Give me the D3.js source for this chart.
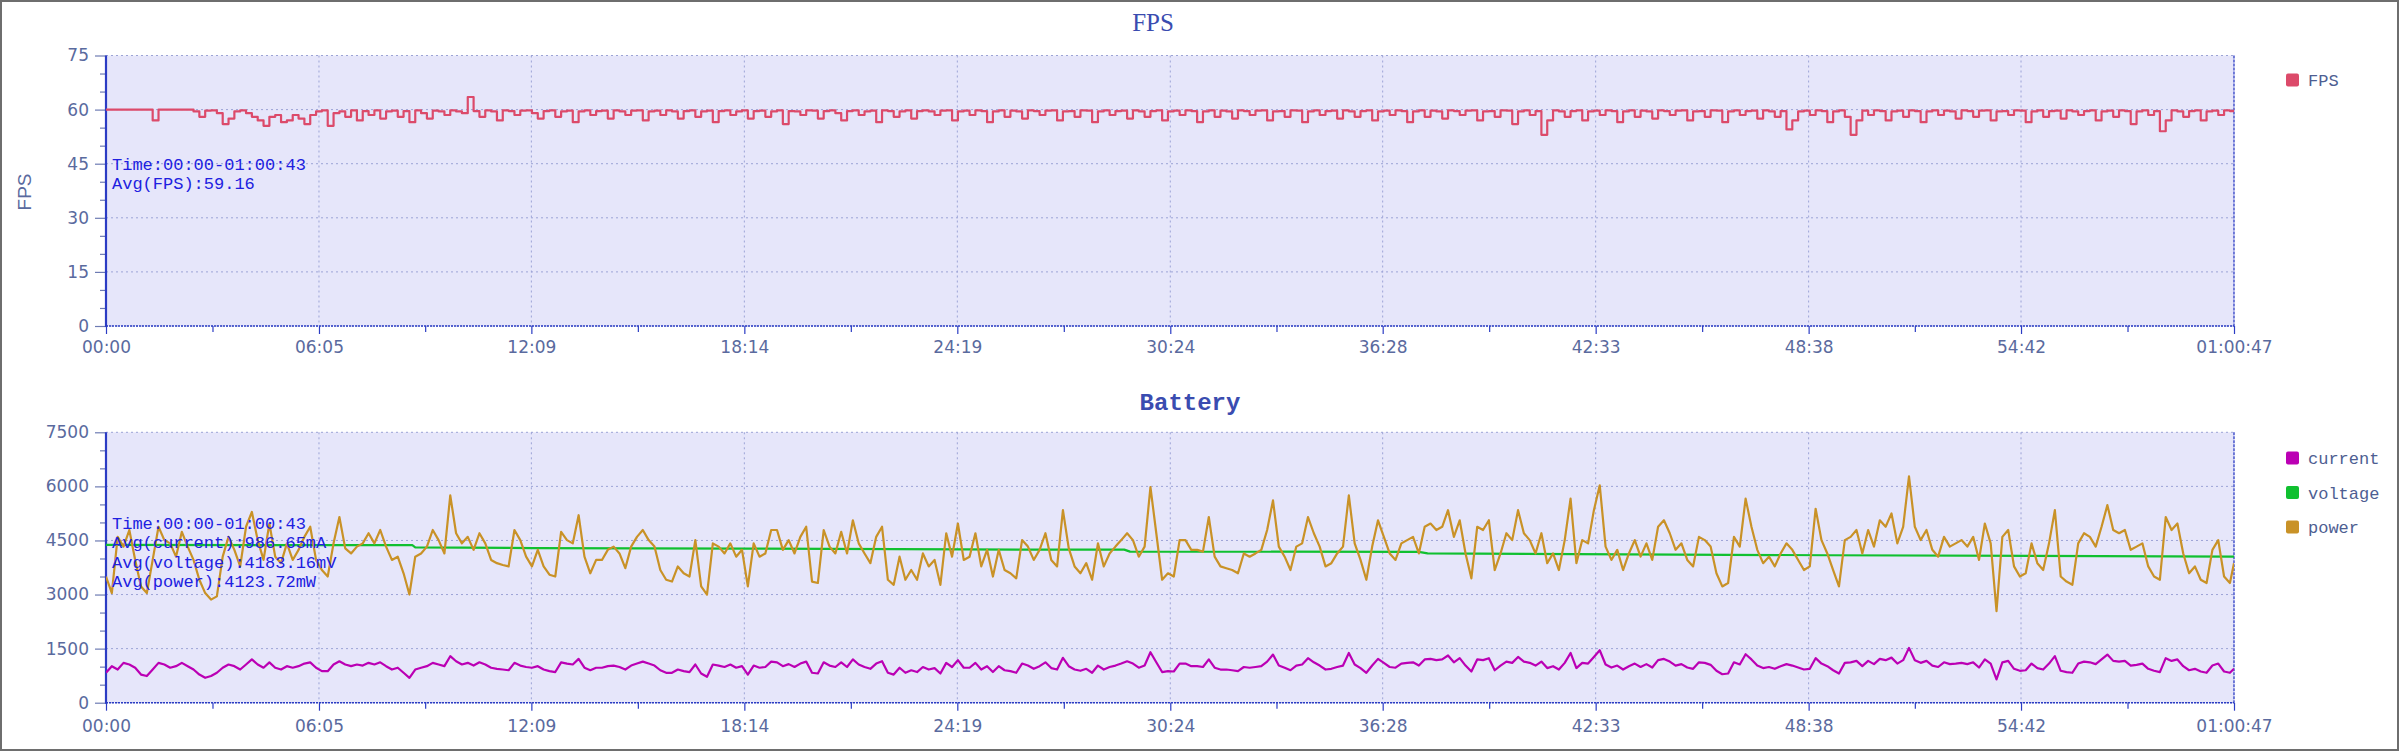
<!DOCTYPE html>
<html><head><meta charset="utf-8">
<script src="https://cdn.jsdelivr.net/npm/d3@7"></script>
<style>body{margin:0;background:#fff}svg{display:block}</style>
</head><body>
<svg id="chart" width="2400" height="753"></svg>
<script>
// ---------------- DATA ----------------
const sampleTimes = d3.range(0, 3641, 10).concat([3647]); // seconds
const xTickValues = [0, 365, 729, 1094, 1459, 1824, 2188, 2553, 2918, 3282, 3647];
const xTickLabels = ["00:00","06:05","12:09","18:14","24:19","30:24","36:28","42:33","48:38","54:42","01:00:47"];
const fpsTicks = [0, 15, 30, 45, 60, 75];
const batteryTicks = [0, 1500, 3000, 4500, 6000, 7500];

const fps = [
60,60,60,60,60,60,60,60,57,60,60,60,60,60,60,59.5,58,59.7,59.8,59,
56,57.5,59.5,59.8,59,58,57,55.5,58,58.5,56.5,57,58.5,57.5,56,58.5,59.5,59.8,55.5,59,
59.5,58,59.8,57,59.6,58.5,59.8,57.5,59.5,59.7,58,59.6,56.5,59.8,59,57.5,59.7,59.5,58.5,59.8,
59.5,59,63.5,59.6,58,59.8,59.5,57,59.8,59.6,58.5,59.7,59.8,59,57.5,59.6,59.8,58,59.5,59.7,
56.5,59.5,59.8,58.5,59.6,59.7,57.5,59.8,59.5,58.5,59.7,59.8,57,59.5,59.7,58.5,59.8,59.5,57.5,59.6,
59.8,58,59.5,59.7,56.5,59.6,59.8,58.5,59.5,59.8,57.5,59.6,59.7,58,59.5,59.8,56,59.6,59.5,58.5,
59.8,59.7,57.5,59.6,59.8,59,57,59.6,59.8,58.5,59.5,59.7,56.5,59.8,59.6,58,59.5,59.8,57.5,59.6,
59.8,59.5,58.5,59.7,59.8,57,59.5,59.7,58.5,59.8,59.6,56.5,59.5,59.8,58,59.7,59.5,57.5,59.8,59.6,
58.5,59.7,59.8,57,59.5,59.6,58,59.8,59.7,56.5,59.5,59.8,58.5,59.6,59.7,57.5,59.8,59.5,58,59.6,
59.8,57,59.5,59.7,58.5,59.8,59.6,56.5,59.5,59.8,58,59.7,59.5,57.5,59.8,59.6,58.5,59.7,59.8,57,
59.5,59.6,58,59.8,59.7,56.5,59.5,59.8,58.5,59.6,59.7,57.5,59.8,59.5,58,59.6,59.8,57,59.5,59.7,
58.5,59.8,59.6,56.5,59.5,59.8,58,59.7,59.5,57.5,59.8,59.6,58.5,59.7,59.8,57,59.5,59.6,58,59.8,
59.7,56,59.5,59.8,58.5,59.6,53,57,59.8,59.5,58,59.6,59.8,57,59.5,59.7,58.5,59.8,59.6,56.5,
59.5,59.8,58,59.7,59.5,57.5,59.8,59.6,58.5,59.7,59.8,57,59.5,59.6,58,59.8,59.7,56.5,59.5,59.8,
58.5,59.6,59.7,57.5,59.8,59.5,58,59.6,54.5,57,59.5,59.7,58.5,59.8,59.6,56.5,59.5,59.8,58,53,
57,59.7,58.5,59.8,59.6,57,59.5,59.7,58,59.8,59.6,56.5,59.5,59.8,58.5,59.7,59.5,57.5,59.8,59.6,
58,59.7,59.8,57,59.5,59.6,58.5,59.8,59.7,56.5,59.5,59.8,58,59.6,59.7,57.5,59.8,59.5,58.5,59.6,
59.8,57,59.5,59.7,58,59.8,59.6,56,59.5,59.8,58.5,59.6,54,57,59.8,59.5,58,59.6,59.8,57,
59.5,59.7,58.5,59.8,59.6,60
];

const power = [
3500,3040,4600,4330,4790,3960,3225,3040,3960,4880,4510,4420,4050,4740,4330,3960,3410,3040,2860,2950,
4050,4600,4240,3780,4880,5290,4510,3960,4970,4050,3870,4420,3960,4240,4600,4880,3960,3680,3500,4420,
5150,4280,4140,4330,4420,4700,4420,4790,4330,3960,4050,3590,3000,4050,4140,4330,4790,4510,4140,5750,
4700,4420,4600,4240,4700,4420,3960,3870,3820,3780,4790,4510,4050,3780,
4240,3780,3550,3500,4740,4510,4420,5200,4050,3590,3960,3960,4240,4330,4140,3730,4330,4600,4790,4510,
4330,3680,3410,3360,3780,3590,3500,4510,3225,3000,4420,4330,4140,4420,4050,4240,3225,4420,4050,4140,
4790,4790,4240,4510,4140,4600,4880,3360,3320,4790,4330,4140,4740,4140,5060,4420,4140,3870,4600,4880,
3410,3270,4050,3410,3680,3410,4140,3780,3960,3270,4700,4050,4970,3960,
4050,4700,3780,4240,3500,4240,3680,3590,3450,4510,4330,3960,4240,4700,3960,3780,5340,4280,3780,3590,
3870,3410,4420,3780,4140,4330,4510,4700,4510,4050,4330,5980,4700,3410,3590,3500,4510,4510,4240,4240,
4190,5150,4050,3780,3730,3680,3590,4140,4050,4140,4240,4790,5610,4330,4050,3680,4330,4420,5150,4700,
4330,3780,3870,4140,4330,5750,4420,3960,3410,4330,5060,4600,4140,
3960,4420,4510,4600,4140,4880,4970,4790,4880,5340,4600,5060,4140,3450,4880,4790,5060,3680,4140,4700,
4510,5340,4700,4510,4140,4700,3870,4140,3680,4510,5660,3870,4510,4420,5340,6030,4330,3960,4240,3680,
4140,4510,4050,4420,3960,4880,5060,4700,4240,4420,3960,3780,4600,4510,4330,3590,3225,3320,4600,4330,
5660,4880,4240,3870,4050,3780,4140,4420,4240,3960,3680,3780,
5380,4510,4140,3680,3225,4510,4600,4790,4140,4790,4330,5060,4880,5250,4420,4880,6280,4880,4510,4790,
4240,4050,4600,4330,4420,4510,4330,4600,3960,4970,4420,2540,4600,4790,3780,3500,3590,4420,3870,3680,
4420,5340,3500,3360,3270,4420,4700,4600,4330,4880,5480,4790,4700,4790,4240,4330,4420,3780,3500,3410,
5150,4790,4970,4140,3590,3780,3410,3320,4240,4510,3500,3320,3870
];

const current = [
830,1013,920,1105,1060,970,780,740,920,1105,1060,970,1013,1105,1013,920,780,690,740,830,
970,1060,1013,920,1060,1200,1060,970,1120,970,920,1013,970,1013,1085,1120,970,875,875,1060,
1150,1060,1013,1060,1030,1105,1060,1120,1013,920,970,830,690,920,970,1013,1105,1060,1013,1290,
1150,1060,1105,1030,1120,1060,970,940,920,900,1105,1030,990,970,
1013,920,875,850,1120,1085,1060,1215,970,900,970,970,1013,1030,990,920,1030,1085,1140,1085,
1030,900,830,830,920,875,850,1060,810,720,1060,1030,990,1060,970,1013,780,1030,970,990,
1140,1120,1013,1070,990,1085,1140,830,810,1120,1030,990,1120,990,1200,1060,990,940,1085,1150,
830,780,970,830,900,850,990,920,960,810,1105,990,1180,970,
970,1105,920,1013,850,1013,900,875,830,1085,1030,940,1013,1120,960,920,1245,1013,920,885,
940,830,1030,920,990,1030,1085,1150,1085,970,1030,1400,1120,850,875,865,1085,1085,1013,1013,
990,1200,970,920,920,900,875,990,970,990,1013,1140,1335,1030,970,900,1030,1060,1235,1120,
1030,920,940,990,1030,1380,1060,960,830,1030,1215,1105,990,
970,1085,1105,1120,1030,1200,1215,1180,1200,1310,1120,1235,1030,865,1200,1180,1235,900,1030,1140,
1105,1270,1140,1105,1030,1140,960,1013,920,1105,1380,960,1105,1085,1270,1455,1060,975,1030,920,
1013,1085,990,1070,975,1180,1215,1140,1030,1070,975,940,1120,1105,1050,885,790,810,1120,1060,
1345,1200,1030,960,990,940,1013,1070,1030,975,920,940,
1235,1085,1013,900,810,1105,1120,1160,1013,1160,1070,1215,1180,1250,1085,1180,1520,1180,1105,1160,
1030,990,1120,1070,1085,1105,1070,1120,975,1200,1085,645,1120,1160,940,885,900,1085,960,920,
1085,1290,885,850,830,1085,1140,1120,1070,1200,1335,1160,1140,1160,1030,1050,1085,940,885,850,
1235,1160,1200,1013,900,940,865,830,1030,1085,865,830,940
];

const voltageTimes = [0, 525, 530, 733, 1100, 1470, 1745, 1755, 2250, 2265, 2950, 3647];
const voltage = [4375, 4370, 4310, 4290, 4275, 4250, 4245, 4190, 4185, 4140, 4090, 4050];

const fpsNotes = ["Time:00:00-01:00:43", "Avg(FPS):59.16"];
const batteryNotes = ["Time:00:00-01:00:43", "Avg(current):986.65mA", "Avg(voltage):4183.16mV", "Avg(power):4123.72mW"];

// ---------------- STYLE ----------------
const C = {
  plotBg: "#e6e6fa", grid: "#9ca3d6", axis: "#2b3cc4", tick: "#6d7bb3",
  label: "#5a6a9e", title: "#3a4cb0", note: "#2020e0",
  fps: "#dc4a6a", current: "#bb00b4", voltage: "#10c030", power: "#c99227"
};
const sansFont = "'DejaVu Sans', sans-serif";
const monoFont = "'Liberation Mono', monospace";

const svg = d3.select("#chart");
svg.append("rect").attr("x", 1).attr("y", 1).attr("width", 2397).attr("height", 749)
  .attr("fill", "#fff").attr("stroke", "#6e6e6e").attr("stroke-width", 2);

const plotL = 106, plotR = 2234;
const x = d3.scaleLinear().domain([0, 3647]).range([plotL, plotR]);

function panel(cfg) {
  const y = d3.scaleLinear().domain([0, cfg.max]).range([cfg.bottom, cfg.top]);
  const g = svg.append("g");
  const clipId = "clip" + cfg.id;
  svg.append("clipPath").attr("id", clipId).append("rect")
    .attr("x", plotL).attr("y", cfg.top - 2).attr("width", plotR - plotL).attr("height", cfg.bottom - cfg.top + 3);

  g.append("rect").attr("x", plotL).attr("y", cfg.top).attr("width", plotR - plotL)
    .attr("height", cfg.bottom - cfg.top).attr("fill", C.plotBg);

  // grid
  g.append("g").selectAll("line").data(cfg.ticks).join("line")
    .attr("x1", plotL).attr("x2", plotR).attr("y1", d => y(d)).attr("y2", d => y(d))
    .attr("stroke", C.grid).attr("stroke-width", 1).attr("stroke-dasharray", "2,3");
  g.append("g").selectAll("line").data(xTickValues.slice(1, -1)).join("line")
    .attr("x1", d => x(d)).attr("x2", d => x(d)).attr("y1", cfg.top).attr("y2", cfg.bottom)
    .attr("stroke", C.grid).attr("stroke-width", 1).attr("stroke-dasharray", "2,3");

  // minor y ticks
  const step = cfg.ticks[1] - cfg.ticks[0];
  const minorY = d3.range(0, cfg.max + 0.001, step / 3).filter(v => !cfg.ticks.some(t => Math.abs(t - v) < 1e-6));
  const yMinor = g.append("g").attr("transform", `translate(${plotL},0)`)
    .call(d3.axisLeft(y).tickValues(minorY).tickSize(6).tickFormat(""));
  yMinor.select(".domain").remove();
  yMinor.selectAll("line").attr("stroke", C.tick).attr("stroke-width", 1.2);

  const yAx = g.append("g").attr("transform", `translate(${plotL},0)`)
    .call(d3.axisLeft(y).tickValues(cfg.ticks).tickSize(11).tickPadding(6).tickSizeOuter(0)
      .tickFormat(d3.format("d")));
  yAx.select(".domain").remove();
  yAx.selectAll(".tick line").attr("stroke", C.tick).attr("stroke-width", 1.2);
  yAx.selectAll("text").attr("font-family", sansFont).attr("font-size", 17).attr("fill", C.label);

  // x axis
  const minorX = xTickValues.slice(0, -1).map((v, i) => (v + xTickValues[i + 1]) / 2);
  const xMinor = g.append("g").attr("transform", `translate(0,${cfg.bottom})`)
    .call(d3.axisBottom(x).tickValues(minorX).tickSize(6).tickFormat(""));
  xMinor.select(".domain").remove();
  xMinor.selectAll("line").attr("stroke", C.axis).attr("stroke-width", 1.2);
  const xAx = g.append("g").attr("transform", `translate(0,${cfg.bottom})`)
    .call(d3.axisBottom(x).tickValues(xTickValues).tickSize(8).tickPadding(cfg.xPad)
      .tickFormat((d, i) => xTickLabels[i]).tickSizeOuter(0));
  xAx.select(".domain").remove();
  xAx.selectAll(".tick line").attr("stroke", C.axis).attr("stroke-width", 1.2);
  xAx.selectAll("text").attr("font-family", sansFont).attr("font-size", 17).attr("fill", C.label);

  // frame lines
  g.append("line").attr("x1", plotL).attr("x2", plotR).attr("y1", cfg.bottom).attr("y2", cfg.bottom)
    .attr("stroke", C.axis).attr("stroke-width", 1.5).attr("stroke-dasharray", "2,1");
  g.append("line").attr("x1", plotR).attr("x2", plotR).attr("y1", cfg.top).attr("y2", cfg.bottom)
    .attr("stroke", C.axis).attr("stroke-width", 1.3).attr("stroke-dasharray", "3,1");
  g.append("line").attr("x1", plotL).attr("x2", plotL).attr("y1", cfg.top).attr("y2", cfg.bottom + 1)
    .attr("stroke", C.axis).attr("stroke-width", 2.2);

  // series
  const lines = g.append("g").attr("clip-path", `url(#${clipId})`);
  cfg.series.forEach(s => {
    const line = d3.line().x((d, i) => x(s.times[i])).y(d => y(d)).curve(s.curve || d3.curveLinear);
    lines.append("path").datum(s.values).attr("d", line).attr("fill", "none")
      .attr("stroke", s.color).attr("stroke-width", s.width || 2.2).attr("stroke-linejoin", "round");
  });

  // notes
  cfg.notes.forEach((t, i) => {
    g.append("text").attr("x", 112).attr("y", cfg.noteY + i * cfg.noteStep).text(t)
      .attr("font-family", monoFont).attr("font-size", 17).attr("fill", C.note);
  });

  // title
  g.append("text").attr("x", cfg.titleX).attr("y", cfg.titleY).attr("text-anchor", "middle")
    .text(cfg.title).attr("font-family", cfg.titleFont).attr("font-size", cfg.titleSize)
    .attr("font-weight", cfg.titleWeight).attr("fill", C.title);

  // legend
  cfg.series.forEach((s, i) => {
    const cy = cfg.legendY + i * 34.5;
    g.append("rect").attr("x", 2286).attr("y", cy - 6.5).attr("width", 13).attr("height", 13)
      .attr("rx", 2).attr("fill", s.color);
    g.append("text").attr("x", 2308).attr("y", cy + 6).text(s.name)
      .attr("font-family", monoFont).attr("font-size", 17).attr("fill", "#4e5e92");
  });
  return y;
}

panel({
  id: "fps", top: 55.5, bottom: 326, max: 75, ticks: fpsTicks, xPad: 7,
  series: [{ name: "FPS", values: fps, times: sampleTimes, color: C.fps, curve: d3.curveStepAfter, width: 2.2 }],
  notes: fpsNotes, noteY: 170, noteStep: 19,
  title: "FPS", titleX: 1153, titleY: 31, titleFont: "'Liberation Serif', serif", titleSize: 25, titleWeight: "normal",
  legendY: 80
});
panel({
  id: "bat", top: 432.3, bottom: 702.7, max: 7500, ticks: batteryTicks, xPad: 9,
  series: [
    { name: "current", values: current, times: sampleTimes, color: C.current },
    { name: "voltage", values: voltage, times: voltageTimes, color: C.voltage },
    { name: "power", values: power, times: sampleTimes, color: C.power }
  ],
  notes: batteryNotes, noteY: 529, noteStep: 19.3,
  title: "Battery", titleX: 1190, titleY: 410, titleFont: monoFont, titleSize: 24, titleWeight: "bold",
  legendY: 458
});

// y axis title
svg.append("text").attr("transform", "translate(31,192) rotate(-90)").attr("text-anchor", "middle")
  .text("FPS").attr("font-family", "'Liberation Sans', sans-serif").attr("font-size", 19).attr("fill", C.label);
</script>
</body></html>
